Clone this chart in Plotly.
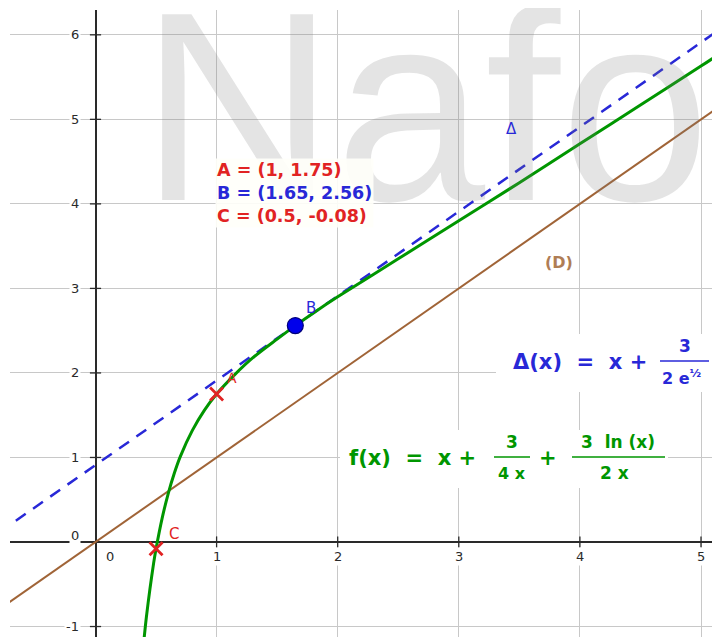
import plotly.graph_objects as go

# ---- data ----
f_x = [0.40, 0.42, 0.45, 0.48, 0.50, 0.55, 0.60, 0.65, 0.70, 0.80, 0.90, 1.00,
       1.15, 1.30, 1.50, 1.65, 1.80, 2.00, 2.50, 3.00, 3.50, 4.00, 4.50, 5.00, 5.20]
f_y = [-1.16, -0.89, -0.55, -0.25, -0.08, 0.28, 0.57, 0.81, 1.01, 1.32, 1.56, 1.75,
       1.98, 2.18, 2.40, 2.56, 2.71, 2.90, 3.35, 3.80, 4.25, 4.71, 5.17, 5.63, 5.82]
delta_x = [-0.8, 5.4]
delta_y = [0.11, 6.31]
d_x = [-0.8, 5.3]
d_y = [-0.8, 5.3]
pt_names = ["A", "B", "C"]
pt_x = [1.0, 1.65, 0.5]
pt_y = [1.75, 2.56, -0.08]
x_ticks = [1, 2, 3, 4, 5]
y_ticks = [-1, 1, 2, 3, 4, 5, 6]

# ---- pixel helpers (page pixels) for layout placement ----
X0, SX = 95.5, 121.1
Y0, SY = 542.0, 84.53
def X(p):
    return (p - X0) / SX
def Y(p):
    return (Y0 - p) / SY

GREEN = "rgb(0,150,0)"
BLUE = "rgb(40,40,215)"
RED = "rgb(225,35,35)"
BROWN = "rgb(160,100,55)"
AX = "#2a2a2a"
FONT = "DejaVu Sans"
NB = "\u00a0"

fig = go.Figure()

fig.add_trace(go.Scatter(x=d_x, y=d_y, mode="lines",
                         line=dict(color=BROWN, width=2), hoverinfo="skip"))
fig.add_trace(go.Scatter(x=delta_x, y=delta_y, mode="lines",
                         line=dict(color=BLUE, width=2.5, dash="12px,9px"), hoverinfo="skip"))
fig.add_trace(go.Scatter(x=f_x, y=f_y, mode="lines",
                         line=dict(color=GREEN, width=3, shape="spline", smoothing=0.8),
                         hoverinfo="skip"))
# axis tick marks
fig.add_trace(go.Scatter(x=[0] * len(y_ticks), y=y_ticks, mode="markers",
                         marker=dict(symbol="line-ew", size=8, line=dict(color=AX, width=1.3)),
                         hoverinfo="skip"))
fig.add_trace(go.Scatter(x=x_ticks, y=[0] * len(x_ticks), mode="markers",
                         marker=dict(symbol="line-ns", size=8, line=dict(color=AX, width=1.3)),
                         hoverinfo="skip"))
# points
fig.add_trace(go.Scatter(x=[pt_x[0], pt_x[2]], y=[pt_y[0], pt_y[2]], mode="markers",
                         marker=dict(symbol="x-thin", size=13, line=dict(color=RED, width=2.8)),
                         hoverinfo="skip"))
fig.add_trace(go.Scatter(x=[pt_x[1]], y=[pt_y[1]], mode="markers",
                         marker=dict(symbol="circle", size=16, color="rgb(0,0,235)",
                                     line=dict(color="rgb(0,0,120)", width=1.2)),
                         hoverinfo="skip"))

ann = []
# watermark
ann.append(dict(x=X(138), y=Y(106), text="Nafo", showarrow=False, xanchor="left", yanchor="middle",
                font=dict(family="Liberation Sans", size=270, color="rgba(120,120,120,0.2)")))

# tick labels
for t in y_ticks:
    ann.append(dict(x=X(81), y=t, text=str(t), showarrow=False, xanchor="right", yanchor="middle",
                    font=dict(family=FONT, size=13, color=AX), bgcolor="white", borderpad=1))
ann.append(dict(x=X(81), y=Y(535), text="0", showarrow=False, xanchor="right", yanchor="middle",
                font=dict(family=FONT, size=13, color=AX), bgcolor="white", borderpad=1))
for t in x_ticks:
    ann.append(dict(x=t, y=Y(556), text=str(t), showarrow=False, xanchor="center", yanchor="middle",
                    font=dict(family=FONT, size=13, color=AX), bgcolor="white", borderpad=1))
ann.append(dict(x=X(110), y=Y(556), text="0", showarrow=False, xanchor="center", yanchor="middle",
                font=dict(family=FONT, size=13, color=AX), bgcolor="white", borderpad=1))

# point labels
ann.append(dict(x=X(232), y=Y(378), text="A", showarrow=False,
                font=dict(family=FONT, size=14, color=RED)))
ann.append(dict(x=X(311), y=Y(308), text="B", showarrow=False,
                font=dict(family=FONT, size=15, color=BLUE)))
ann.append(dict(x=X(174), y=Y(534), text="C", showarrow=False,
                font=dict(family=FONT, size=15, color=RED)))
ann.append(dict(x=X(511), y=Y(129), text="Δ", showarrow=False,
                font=dict(family=FONT, size=15, color=BLUE)))
ann.append(dict(x=X(559), y=Y(262), text="<b>(D)</b>", showarrow=False,
                font=dict(family=FONT, size=16, color="rgb(175,125,85)")))

# coordinate block
coord_col = [RED, BLUE, RED]
lines = [f"<span style='color:{c}'>{n} = ({a:g}, {b:g})</span>"
         for n, a, b, c in zip(pt_names, pt_x, pt_y, coord_col)]
ann.append(dict(x=X(215), y=Y(193), text="<b>" + "<br>".join(lines) + "</b>", showarrow=False,
                xanchor="left", yanchor="middle", align="left",
                font=dict(family=FONT, size=17.5, color=RED),
                bgcolor="rgba(255,255,250,0.9)", borderpad=1))

def txt_ann(xp, yp, text, color, size, xa="center"):
    return dict(x=X(xp), y=Y(yp), text=f"<b>{text}</b>", showarrow=False, xanchor=xa,
                yanchor="middle", font=dict(family=FONT, size=size, color=color))

# formula Δ
ann.append(txt_ann(649, 362, f"Δ(x){NB*2}={NB*2}x{NB}+", BLUE, 21, "right"))
ann.append(txt_ann(685, 346, "3", BLUE, 17))
ann.append(txt_ann(682, 377, "2 e<sup>½</sup>", BLUE, 16))
# formula f
ann.append(txt_ann(478, 458, f"f(x){NB*2}={NB*2}x{NB}+", GREEN, 21, "right"))
ann.append(txt_ann(512, 442, "3", GREEN, 17))
ann.append(txt_ann(512, 473, "4 x", GREEN, 16))
ann.append(txt_ann(548, 458, "+", GREEN, 21))
ann.append(txt_ann(618, 442, f"3{NB*2}ln (x)", GREEN, 17))
ann.append(txt_ann(614, 473, "2 x", GREEN, 17))

shapes = [
    # white backdrops behind the formulas (hide grid lines)
    dict(type="rect", x0=X(496), x1=X(714), y0=Y(392), y1=Y(334), layer="between",
         fillcolor="white", line=dict(width=0)),
    dict(type="rect", x0=X(340), x1=X(668), y0=Y(488), y1=Y(430), layer="between",
         fillcolor="white", line=dict(width=0)),
    # fraction bars
    dict(type="line", x0=X(660), x1=X(709), y0=Y(361), y1=Y(361), line=dict(color=BLUE, width=1.5)),
    dict(type="line", x0=X(494), x1=X(530), y0=Y(457), y1=Y(457), line=dict(color=GREEN, width=1.5)),
    dict(type="line", x0=X(572), x1=X(665), y0=Y(457), y1=Y(457), line=dict(color=GREEN, width=1.5)),
]

axis_common = dict(showticklabels=False, ticks="", dtick=1, tick0=0, showgrid=True,
                   gridcolor="#c8c8c8", gridwidth=1, zeroline=True, zerolinecolor=AX,
                   zerolinewidth=1.6, showline=False, fixedrange=True)

# page has an 8px body margin: plot area spans page pixels 10..720 x 10..637
fig.update_layout(
    width=712, height=629,
    margin=dict(l=2, r=0, t=2, b=0, pad=0),
    paper_bgcolor="white", plot_bgcolor="white",
    showlegend=False,
    xaxis=dict(range=[X(10), X(720)], **axis_common),
    yaxis=dict(range=[Y(637), Y(10)], **axis_common),
    annotations=ann,
    shapes=shapes,
)

fig.write_html("out.html")
